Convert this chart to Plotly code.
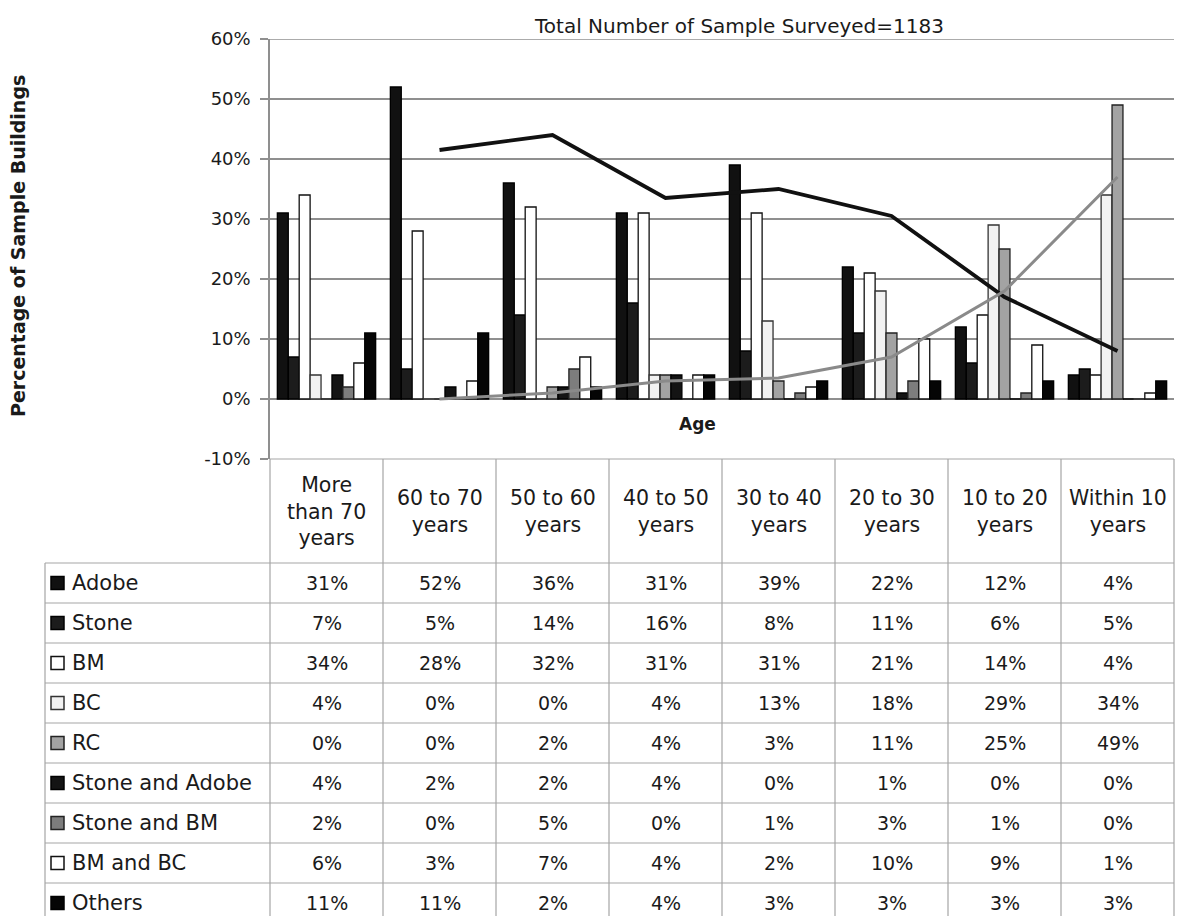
import plotly.graph_objects as go

# ---- data -------------------------------------------------------------
categories = [
    "More than 70 years", "60 to 70 years", "50 to 60 years", "40 to 50 years",
    "30 to 40 years", "20 to 30 years", "10 to 20 years", "Within 10 years",
]
header_labels = [
    "More<br>than 70<br>years", "60 to 70<br>years", "50 to 60<br>years",
    "40 to 50<br>years", "30 to 40<br>years", "20 to 30<br>years",
    "10 to 20<br>years", "Within 10<br>years",
]
series_names = ["Adobe", "Stone", "BM", "BC", "RC", "Stone and Adobe",
                "Stone and BM", "BM and BC", "Others"]

adobe = [31, 52, 36, 31, 39, 22, 12, 4]
stone = [7, 5, 14, 16, 8, 11, 6, 5]
bm = [34, 28, 32, 31, 31, 21, 14, 4]
bc = [4, 0, 0, 4, 13, 18, 29, 34]
rc = [0, 0, 2, 4, 3, 11, 25, 49]
stone_adobe = [4, 2, 2, 4, 0, 1, 0, 0]
stone_bm = [2, 0, 5, 0, 1, 3, 1, 0]
bm_bc = [6, 3, 7, 4, 2, 10, 9, 1]
others = [11, 11, 2, 4, 3, 3, 3, 3]

# two-period moving-average trend lines (start at the second age class)
adobe_trend = [41.5, 44, 33.5, 35, 30.5, 17, 8]
rc_trend = [0, 1, 3, 3.5, 7, 18, 37]

y_ticks = [-10, 0, 10, 20, 30, 40, 50, 60]

series_values = [adobe, stone, bm, bc, rc, stone_adobe, stone_bm, bm_bc, others]

# ---- styles -------------------------------------------------------------
fills = ["#111111", "#1c1c1c", "#ffffff", "#f2f2f2", "#a3a3a3",
         "#141414", "#7d7d7d", "#ffffff", "#050505"]
edges = ["#000000", "#000000", "#111111", "#333333", "#222222",
         "#000000", "#222222", "#111111", "#000000"]

FONT = "DejaVu Sans"
TXT = "#1a1a1a"
GRID = "#8f8f8f"
TABLE_LINE = "#a5a5a5"

W, H = 1180, 916
PL, PR, PT, PB = 270, 1174, 39, 459      # plot area in pixels
TABLE_LEFT = 45
HEADER_BOTTOM = 563
ROW_H = 40
COL_W = (PR - PL) / len(categories)


def px(xp):
    return (xp - PL) / (PR - PL)


def py(yp):
    return (PB - yp) / (PB - PT)


fig = go.Figure()

for name, vals, fc, ec in zip(series_names, series_values, fills, edges):
    fig.add_trace(go.Bar(
        x=categories, y=vals, name=name, showlegend=False,
        marker=dict(color=fc, line=dict(color=ec, width=1.3)),
    ))

fig.add_trace(go.Scatter(
    x=categories[1:], y=adobe_trend, mode="lines", showlegend=False,
    line=dict(color="#111111", width=3.8),
))
fig.add_trace(go.Scatter(
    x=categories[1:], y=rc_trend, mode="lines", showlegend=False,
    line=dict(color="#8a8a8a", width=3),
))

shapes = []
annotations = []

# top gridline at the upper end of the value axis
shapes.append(dict(type="line", xref="paper", yref="y",
                   x0=0, x1=1, y0=y_ticks[-1], y1=y_ticks[-1],
                   line=dict(color=GRID, width=1.5)))

# data table grid
shapes.append(dict(type="line", xref="paper", yref="paper",
                   x0=px(PL), x1=px(PR), y0=py(PB), y1=py(PB),
                   line=dict(color=TABLE_LINE, width=1.2)))
n_rows = len(series_names)
for r in range(n_rows + 1):
    yy = HEADER_BOTTOM + r * ROW_H
    shapes.append(dict(type="line", xref="paper", yref="paper",
                       x0=px(TABLE_LEFT), x1=px(PR), y0=py(yy), y1=py(yy),
                       line=dict(color=TABLE_LINE, width=1.2)))
shapes.append(dict(type="line", xref="paper", yref="paper",
                   x0=px(TABLE_LEFT), x1=px(TABLE_LEFT),
                   y0=py(HEADER_BOTTOM), y1=py(H + 10),
                   line=dict(color=TABLE_LINE, width=1.2)))
for c in range(len(categories) + 1):
    xx = PL + c * COL_W
    shapes.append(dict(type="line", xref="paper", yref="paper",
                       x0=px(xx), x1=px(xx), y0=py(PB), y1=py(H + 10),
                       line=dict(color=TABLE_LINE, width=1.2)))

# column headers
for c, lab in enumerate(header_labels):
    annotations.append(dict(
        xref="paper", yref="paper", x=px(PL + (c + 0.5) * COL_W),
        y=py((PB + HEADER_BOTTOM) / 2), text=lab, showarrow=False,
        xanchor="center", yanchor="middle", align="center",
        font=dict(family=FONT, size=20.5, color=TXT),
    ))

# rows: legend key, series name, values
for r, (name, vals) in enumerate(zip(series_names, series_values)):
    yc = HEADER_BOTTOM + (r + 0.5) * ROW_H
    shapes.append(dict(type="rect", xref="paper", yref="paper",
                       x0=px(51), x1=px(64), y0=py(yc + 6.5), y1=py(yc - 6.5),
                       fillcolor=fills[r], line=dict(color=edges[r], width=1.5)))
    annotations.append(dict(
        xref="paper", yref="paper", x=px(70), y=py(yc), text=name,
        showarrow=False, xanchor="left", yanchor="middle",
        font=dict(family=FONT, size=21, color=TXT),
    ))
    for c, v in enumerate(vals):
        annotations.append(dict(
            xref="paper", yref="paper", x=px(PL + (c + 0.5) * COL_W), y=py(yc),
            text=f"{v}%", showarrow=False, xanchor="center", yanchor="middle",
            font=dict(family=FONT, size=19, color=TXT),
        ))

# titles
annotations.append(dict(
    xref="paper", yref="paper", x=px(739), y=py(26),
    text="Total Number of Sample Surveyed=1183", showarrow=False,
    xanchor="center", yanchor="middle",
    font=dict(family=FONT, size=20, color=TXT),
))
annotations.append(dict(
    xref="paper", yref="paper", x=px(697), y=py(424), text="<b>Age</b>",
    showarrow=False, xanchor="center", yanchor="middle",
    font=dict(family=FONT, size=17, color=TXT),
))
annotations.append(dict(
    xref="paper", yref="paper", x=px(18), y=py(246),
    text="<b>Percentage of Sample Buildings</b>", showarrow=False,
    textangle=-90, xanchor="center", yanchor="middle",
    font=dict(family=FONT, size=19, color=TXT),
))

fig.update_layout(
    width=W, height=H,
    margin=dict(l=PL, r=W - PR, t=PT, b=H - PB, pad=0),
    paper_bgcolor="white", plot_bgcolor="white",
    barmode="group", bargap=0.13, bargroupgap=0,
    font=dict(family=FONT, color=TXT),
    shapes=shapes, annotations=annotations,
    xaxis=dict(
        type="category", categoryorder="array", categoryarray=categories,
        range=[-0.5, len(categories) - 0.5], showticklabels=False,
        showgrid=False, zeroline=False, showline=False, ticks="",
    ),
    yaxis=dict(
        range=[-10, 60], tickvals=y_ticks,
        ticktext=[f"{t}%" for t in y_ticks],
        showgrid=True, gridcolor=GRID, gridwidth=1.5,
        zeroline=True, zerolinecolor=GRID, zerolinewidth=1.5,
        showline=True, linecolor=GRID, linewidth=1.5,
        ticks="outside", ticklen=8, tickcolor=GRID, tickwidth=1.5,
        ticklabelstandoff=6,
        tickfont=dict(family=FONT, size=18, color=TXT),
    ),
)

fig.write_html("out.html")
